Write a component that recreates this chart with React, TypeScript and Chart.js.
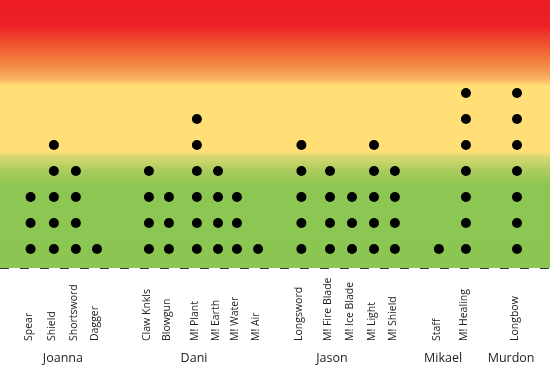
import React, { useEffect, useRef } from "react";
import { Chart, registerables } from "chart.js";

Chart.register(...registerables);

// Weapons (categories), who uses them, and their counts
const weapons = [
  "Spear", "Shield", "Shortsword", "Dagger",
  "Claw Knkls", "Blowgun", "M! Plant", "M! Earth", "M! Water", "M! Air",
  "Longsword", "M! Fire Blade", "M! Ice Blade", "M! Light", "M! Shield",
  "Staff", "M! Healing",
  "Longbow",
];
const counts = [3, 5, 4, 1, 4, 3, 6, 4, 3, 1, 5, 4, 3, 5, 4, 1, 7, 7];
// slot of each weapon on the x axis (0..25)
const slots = [1.39, 2.45, 3.45, 4.41, 6.77, 7.68, 8.95, 9.91, 10.77, 11.73, 13.7, 15.0, 16.0, 17.0, 17.95, 19.95, 21.18, 23.5];

const characters = ["Joanna", "Dani", "Jason", "Mikael", "Murdon"];
const characterSlots = [2.86, 8.82, 15.09, 20.14, 23.23];

const X_MIN = 0;
const X_MAX = 25;
const Y_MIN = 0.27;
const Y_MAX = 10.58;

export default function App() {
  const ref = useRef<HTMLCanvasElement | null>(null);

  useEffect(() => {
    document.body.style.margin = "0";
    const canvas = ref.current;
    if (!canvas) return;

    const points: { x: number; y: number }[] = [];
    weapons.forEach((_, i) => {
      for (let k = 1; k <= counts[i]; k++) points.push({ x: slots[i], y: k });
    });

    const bgPlugin = {
      id: "bgGradient",
      beforeDatasetsDraw(chart: any) {
        const { ctx, chartArea } = chart;
        const { left, right, top, bottom } = chartArea;
        const h = bottom - top;
        const g = ctx.createLinearGradient(0, top, 0, bottom);
        g.addColorStop(0, "#ED1C24");
        g.addColorStop(25 / h, "#ED2026");
        g.addColorStop(45 / h, "#EF5530");
        g.addColorStop(62 / h, "#F3803F");
        g.addColorStop(78 / h, "#F9AE62");
        g.addColorStop(86 / h, "#FFDF76");
        g.addColorStop(152 / h, "#FFDF76");
        g.addColorStop(156 / h, "#DCD872");
        g.addColorStop(170 / h, "#ACCD5E");
        g.addColorStop(185 / h, "#8DC653");
        g.addColorStop(1, "#8BC652");
        ctx.save();
        ctx.fillStyle = g;
        ctx.fillRect(left, top, right - left, h);
        // dashed baseline
        ctx.strokeStyle = "#333333";
        ctx.lineWidth = 1.2;
        ctx.setLineDash([9, 11]);
        ctx.beginPath();
        ctx.moveTo(left, bottom + 0.5);
        ctx.lineTo(right, bottom + 0.5);
        ctx.stroke();
        ctx.restore();
      },
      afterDraw(chart: any) {
        const { ctx } = chart;
        const xs = chart.scales.x;
        ctx.save();
        ctx.fillStyle = "#222222";
        ctx.font = "10.5px 'Open Sans', sans-serif";
        ctx.textAlign = "left";
        ctx.textBaseline = "middle";
        weapons.forEach((w, i) => {
          const px = xs.getPixelForValue(slots[i]) - 2;
          ctx.save();
          ctx.translate(px, 341);
          ctx.rotate(-Math.PI / 2);
          ctx.fillText(w, 0, 0);
          ctx.restore();
        });
        ctx.font = "12.5px 'Open Sans', sans-serif";
        ctx.textAlign = "center";
        characters.forEach((c, i) => {
          ctx.fillText(c, xs.getPixelForValue(characterSlots[i]), 358);
        });
        ctx.restore();
      },
    };

    const chart = new Chart(canvas, {
      type: "scatter",
      data: {
        datasets: [
          {
            data: points,
            backgroundColor: "#000000",
            borderColor: "#000000",
            pointRadius: 5,
            pointHoverRadius: 5,
            borderWidth: 0,
            clip: false,
          },
        ],
      },
      options: {
        animation: false,
        responsive: false,
        maintainAspectRatio: false,
        devicePixelRatio: 1,
        layout: { autoPadding: false, padding: { left: 0, right: 0, top: 0, bottom: 107 } },
        plugins: { legend: { display: false }, tooltip: { enabled: false } },
        scales: {
          x: { type: "linear", min: X_MIN, max: X_MAX, display: false },
          y: { type: "linear", min: Y_MIN, max: Y_MAX, display: false },
        },
      },
      plugins: [bgPlugin],
    });
    return () => chart.destroy();
  }, []);

  return (
    <div style={{ width: 550, height: 375, position: "relative" }}>
      <canvas ref={ref} width={550} height={375} style={{ display: "block" }} />
    </div>
  );
}
